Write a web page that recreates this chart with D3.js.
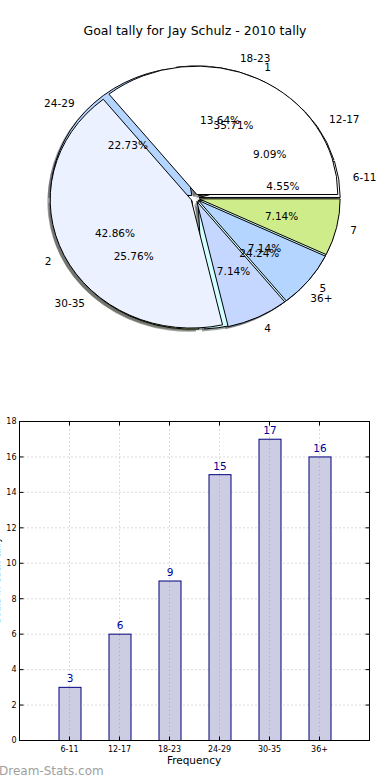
<!DOCTYPE html>
<html>
<head>
<meta charset="utf-8">
<script src="https://cdn.jsdelivr.net/npm/d3@7"></script>
<style>
  body { margin: 0; background: #fff; }
  svg { display: block; font-family: "DejaVu Sans", sans-serif; }
</style>
</head>
<body>
<div id="chart"></div>
<script>
// tally bands (first pie + bars)
const categories = ["6-11", "12-17", "18-23", "24-29", "30-35", "36+"];
const goals = [3, 6, 9, 15, 17, 16];
// second pie that got drawn over the first one
const pie2Labels = ["1", "2", "4", "5", "7"];
const pie2Values = [5, 6, 1, 1, 1];
const yTicks = [0, 2, 4, 6, 8, 10, 12, 14, 16, 18];

const palette = ["#ffffff", "#ebf1fe", "#c6d7ff", "#b4d5ff", "#cfec8a", "#d2ffff"];

const width = 390, height = 780;
const svg = d3.select("#chart").append("svg")
  .attr("width", width)
  .attr("height", height);

svg.append("text")
  .attr("x", 195).attr("y", 35)
  .attr("text-anchor", "middle")
  .style("font-size", "12.5px")
  .text("Goal tally for Jay Schulz - 2010 tally");

// ---- pie (elliptical, matplotlib style angles: ccw from east)
const cx = 195, cy = 198, rx = 141, ry = 128.4;
const explode = 0.03;

const pt = (ox, oy, t, k) => [ox + k * rx * Math.cos(t), oy - k * ry * Math.sin(t)];

function wedgePath(ox, oy, a0, a1) {
  const p0 = pt(ox, oy, a0, 1), p1 = pt(ox, oy, a1, 1);
  const large = (a1 - a0) > Math.PI ? 1 : 0;
  return `M${ox},${oy}L${p0[0]},${p0[1]}A${rx},${ry} 0 ${large} 0 ${p1[0]},${p1[1]}Z`;
}

const pieGen = d3.pie().sort(null).startAngle(0).endAngle(2 * Math.PI);

function layout(values, labels) {
  const total = d3.sum(values);
  return pieGen(values).map((d, i) => {
    const mid = (d.startAngle + d.endAngle) / 2;
    const ox = cx + explode * rx * Math.cos(mid);
    const oy = cy - explode * ry * Math.sin(mid);
    return { ...d, i, mid, ox, oy, label: labels[i], pct: d.value / total * 100 };
  });
}

const pies = [layout(goals, categories), layout(pie2Values, pie2Labels)];

const shadowColor = c => {
  const r = d3.rgb(c);
  return d3.rgb(r.r * 0.3, r.g * 0.3, r.b * 0.3);
};

const gPie = svg.append("g");
// shadows first, under everything
pies.forEach(p => {
  gPie.append("g")
    .attr("transform", `translate(${-0.02 * rx},${0.02 * ry})`)
    .selectAll("path")
    .data(p).join("path")
      .attr("d", d => wedgePath(d.ox, d.oy, d.startAngle, d.endAngle))
      .attr("fill", d => shadowColor(palette[d.i]))
      .attr("fill-opacity", 0.5)
      .attr("stroke", "none");
});
pies.forEach(p => {
  gPie.append("g").selectAll("path")
    .data(p).join("path")
      .attr("d", d => wedgePath(d.ox, d.oy, d.startAngle, d.endAngle))
      .attr("fill", d => palette[d.i])
      .attr("stroke", "#000")
      .attr("stroke-width", 1)
      .attr("stroke-linejoin", "round");
});
pies.forEach(p => {
  const g = gPie.append("g").style("font-size", "10.5px").attr("fill", "#000");
  g.selectAll("text.lab")
    .data(p).join("text")
      .attr("class", "lab")
      .attr("x", d => pt(d.ox, d.oy, d.mid, 1.1)[0])
      .attr("y", d => pt(d.ox, d.oy, d.mid, 1.1)[1])
      .attr("dy", "0.35em")
      .attr("text-anchor", d => Math.cos(d.mid) > 0 ? "start" : "end")
      .text(d => d.label);
  g.selectAll("text.pct")
    .data(p).join("text")
      .attr("class", "pct")
      .attr("x", d => pt(d.ox, d.oy, d.mid, 0.6)[0])
      .attr("y", d => pt(d.ox, d.oy, d.mid, 0.6)[1])
      .attr("dy", "0.35em")
      .attr("text-anchor", "middle")
      .text(d => d.pct.toFixed(2) + "%");
});

// ---- bar chart
const plotL = 19.5, plotR = 369.5, plotT = 421.5, plotB = 740.5;
const x = d3.scaleLinear().domain([-1, 6]).range([plotL, plotR]);
const y = d3.scaleLinear().domain([0, 18]).range([plotB, plotT]);
const barW = 22;

const gBar = svg.append("g");

// grid
gBar.append("g").selectAll("line")
  .data(yTicks.slice(1, -1)).join("line")
    .attr("x1", plotL).attr("x2", plotR)
    .attr("y1", d => y(d)).attr("y2", d => y(d))
    .attr("stroke", "#b8b8b8").attr("stroke-dasharray", "1,3");
gBar.append("g").selectAll("line")
  .data(categories).join("line")
    .attr("x1", (d, i) => x(i)).attr("x2", (d, i) => x(i))
    .attr("y1", plotT).attr("y2", plotB)
    .attr("stroke", "#b8b8b8").attr("stroke-dasharray", "1,3");

// bars
gBar.append("g").selectAll("rect")
  .data(goals).join("rect")
    .attr("x", (d, i) => x(i) - barW / 2 + 0.5)
    .attr("y", d => y(d))
    .attr("width", barW)
    .attr("height", d => plotB - y(d))
    .attr("fill", "#cccce2")
    .attr("stroke", "#00007f")
    .attr("stroke-width", 1);

// grid lines show through the bars in the reference
gBar.append("g").selectAll("line")
  .data(categories).join("line")
    .attr("x1", (d, i) => x(i)).attr("x2", (d, i) => x(i))
    .attr("y1", (d, i) => y(goals[i]) + 1).attr("y2", plotB)
    .attr("stroke", "#a8a8b8").attr("stroke-dasharray", "1,3");

gBar.append("g").selectAll("text")
  .data(goals).join("text")
    .attr("x", (d, i) => x(i) + 0.5)
    .attr("y", d => y(d) - 5)
    .attr("text-anchor", "middle")
    .attr("fill", "#000099")
    .style("font-size", "10.5px")
    .text(d => d);

// frame
gBar.append("rect")
  .attr("x", plotL).attr("y", plotT)
  .attr("width", plotR - plotL).attr("height", plotB - plotT)
  .attr("fill", "none").attr("stroke", "#000");

// ticks
const tickG = gBar.append("g").attr("stroke", "#000");
tickG.selectAll("line.yl").data(yTicks).join("line").attr("class", "yl")
  .attr("x1", plotL).attr("x2", plotL + 4).attr("y1", d => y(d)).attr("y2", d => y(d));
tickG.selectAll("line.yr").data(yTicks).join("line").attr("class", "yr")
  .attr("x1", plotR).attr("x2", plotR - 4).attr("y1", d => y(d)).attr("y2", d => y(d));
tickG.selectAll("line.xb").data(categories).join("line").attr("class", "xb")
  .attr("x1", (d, i) => x(i)).attr("x2", (d, i) => x(i)).attr("y1", plotB).attr("y2", plotB - 4);
tickG.selectAll("line.xt").data(categories).join("line").attr("class", "xt")
  .attr("x1", (d, i) => x(i)).attr("x2", (d, i) => x(i)).attr("y1", plotT).attr("y2", plotT + 4);

gBar.append("g").selectAll("text")
  .data(yTicks).join("text")
    .attr("x", plotL - 3)
    .attr("y", d => y(d))
    .attr("dy", "0.35em")
    .attr("text-anchor", "end")
    .style("font-size", "8px")
    .text(d => d);

gBar.append("g").selectAll("text")
  .data(categories).join("text")
    .attr("x", (d, i) => x(i))
    .attr("y", plotB + 11)
    .attr("text-anchor", "middle")
    .style("font-size", "8px")
    .text(d => d);

svg.append("text")
  .attr("x", 194).attr("y", 764)
  .attr("text-anchor", "middle")
  .style("font-size", "10.5px")
  .text("Frequency");

// y label sits mostly off the left edge, as in the reference
svg.append("text")
  .attr("transform", `translate(0,${(plotT + plotB) / 2}) rotate(-90)`)
  .attr("text-anchor", "middle")
  .style("font-size", "9.5px")
  .text("Goals in each tally");

svg.append("text")
  .attr("x", -1).attr("y", 775)
  .attr("fill", "#a0a0a0")
  .style("font-size", "12px")
  .text("Dream-Stats.com");
</script>
</body>
</html>
